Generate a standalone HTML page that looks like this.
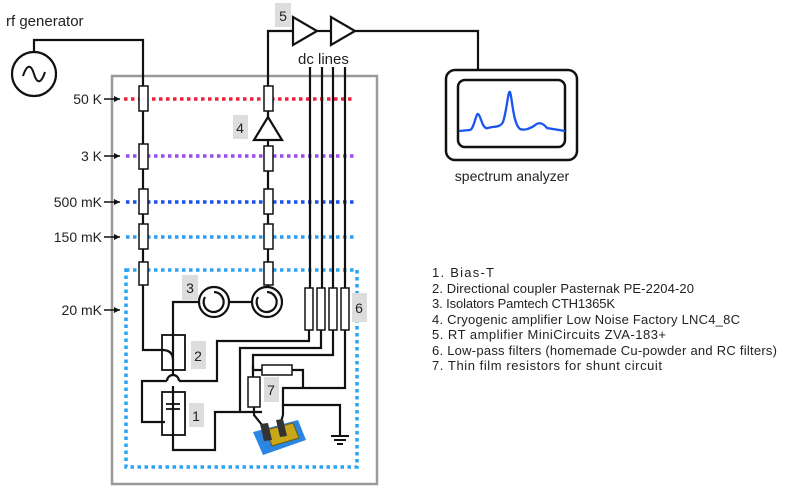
<!DOCTYPE html>
<html><head><meta charset="utf-8"><style>
html,body{margin:0;padding:0;background:#fff;}
svg{display:block;}
text{font-family:"Liberation Sans",sans-serif;fill:#222;}
</style></head><body>
<svg width="785" height="490" viewBox="0 0 785 490" xmlns="http://www.w3.org/2000/svg">
<defs>
<marker id="ar" markerWidth="8" markerHeight="8" refX="6" refY="3" orient="auto" markerUnits="userSpaceOnUse"><path d="M0,0 L6,3 L0,6 z" fill="#111"/></marker>
</defs>
<rect x="112" y="76" width="265" height="408" fill="none" stroke="#999" stroke-width="2.5"/>
<g stroke-width="3.5" stroke-dasharray="3.5 3.5" fill="none">
<line x1="124" y1="99" x2="354" y2="99" stroke="#f0203a"/>
<line x1="126" y1="156" x2="354" y2="156" stroke="#9a4cf0"/>
<line x1="126" y1="202" x2="354" y2="202" stroke="#1a50ee"/>
<line x1="126" y1="237" x2="354" y2="237" stroke="#2a9cf6"/>
<rect x="126" y="270" width="231" height="197" stroke="#2aa4f4"/>
</g>
<g font-size="14" text-anchor="end">
<text x="102" y="104">50 K</text>
<text x="102" y="161">3 K</text>
<text x="102" y="207">500 mK</text>
<text x="102" y="242">150 mK</text>
<text x="102" y="315">20 mK</text>
</g>
<g stroke="#111" stroke-width="1.5" marker-end="url(#ar)">
<line x1="104" y1="99" x2="120" y2="99"/>
<line x1="104" y1="156" x2="120" y2="156"/>
<line x1="104" y1="202" x2="120" y2="202"/>
<line x1="104" y1="237" x2="120" y2="237"/>
<line x1="104" y1="310" x2="120" y2="310"/>
</g>
<g fill="none" stroke="#111" stroke-width="2.2">
<circle cx="34" cy="74" r="22"/>
<path d="M23,76 C27,64 31,64 34,74 C37,84 41,84 45,72" stroke-width="2"/>
<polyline points="34,52 34,40 143,40 143,350 162,350"/>
<path d="M162,350 Q173,350 173,360"/>
<polyline points="268,287 268,31 293,31"/>
<line x1="317" y1="31" x2="331" y2="31"/>
<polyline points="355,31 478,31 478,70"/>
<polygon points="293,17 293,45 317,31" fill="#fff"/>
<polygon points="331,17 331,45 355,31" fill="#fff"/>
<polygon points="268,117 254,140 282,140" fill="#fff"/>
<line x1="310" y1="67" x2="310" y2="290"/>
<line x1="322" y1="67" x2="322" y2="290"/>
<line x1="333" y1="67" x2="333" y2="290"/>
<line x1="345" y1="67" x2="345" y2="290"/>
<line x1="229" y1="302" x2="252" y2="302"/>
<polyline points="199,302 173,302 173,376"/>
<path d="M173,386 L173,450 L215,450 L215,412 L262,412"/>
<path d="M167,381 A6,6 0 0 1 179,381" />
<polyline points="309,330 309,341 217,341 217,381 179,381"/>
<polyline points="167,381 142,381 142,422 165,422"/>
<polyline points="321,330 321,348 240,348 240,412"/>
<polyline points="333,330 333,355 253,355 253,377"/>
<polyline points="253,365 253,370 262,370"/>
<polyline points="292,370 303,370 303,388"/>
<polyline points="345,330 345,388 283,388 283,405 340,405 340,436"/>
<polyline points="254,407 254,415 262,425"/>
<polyline points="283,405 283,415 280,425"/>
</g>
<g stroke="#111" stroke-width="2">
<line x1="331" y1="436" x2="349" y2="436"/>
<line x1="334" y1="440" x2="346" y2="440"/>
<line x1="337" y1="444" x2="343" y2="444"/>
</g>
<g fill="#fff" stroke="#111" stroke-width="1.5">
<rect x="139" y="86" width="9" height="25"/>
<rect x="139" y="144" width="9" height="25"/>
<rect x="139" y="189" width="9" height="25"/>
<rect x="139" y="224" width="9" height="25"/>
<rect x="139" y="262" width="9" height="23"/>
<rect x="264" y="86" width="9" height="25"/>
<rect x="264" y="146" width="9" height="25"/>
<rect x="264" y="189" width="9" height="25"/>
<rect x="264" y="224" width="9" height="25"/>
<rect x="264" y="262" width="9" height="23"/>
<rect x="305" y="288" width="8" height="42"/>
<rect x="317" y="288" width="8" height="42"/>
<rect x="329" y="288" width="8" height="42"/>
<rect x="341" y="288" width="8" height="42"/>
<rect x="248" y="377" width="12" height="30"/>
<rect x="262" y="365" width="30" height="10"/>
</g>
<g fill="none" stroke="#111" stroke-width="1.8">
<rect x="162" y="335" width="23" height="35"/>
<rect x="162" y="392" width="23" height="43"/>
<line x1="166" y1="404" x2="180" y2="404"/>
<line x1="166" y1="409" x2="180" y2="409"/>
</g>
<g fill="#fff" stroke="#111" stroke-width="2.2">
<circle cx="214" cy="302" r="15"/>
<circle cx="267" cy="302" r="15"/>
</g>
<g fill="none" stroke="#111" stroke-width="2.2">
<path d="M214,292 A10,10 0 1 1 205,297"/>
<path d="M267,292 A10,10 0 1 1 258,297"/>
</g>
<polygon points="253,432 298,420 306,440 263,455" fill="#2a86e0"/>
<polygon points="266,430 293,423 299,438 272,446" fill="#c8a818" stroke="#6a5a10" stroke-width="1"/>
<polygon points="260,424 268,423 272,440 264,441" fill="#333"/>
<polygon points="276,420 283,419 287,436 280,437" fill="#333"/>
<rect x="446" y="70" width="131" height="90" rx="9" fill="#fff" stroke="#111" stroke-width="2.5"/>
<rect x="458" y="80" width="107" height="67" rx="7" fill="#fff" stroke="#111" stroke-width="2.5"/>
<path d="M459,131 L470,130 C474,129 476,113 478,114 C481,115 482,130 488,128 C494,126 500,128 503,122 C507,110 508,90 510,92 C512,96 513,124 520,129 C525,131 530,128 534,126 C538,122 542,122 547,128 L565,131" fill="none" stroke="#1a55f0" stroke-width="2.3"/>
<text x="512" y="181" font-size="14" text-anchor="middle">spectrum analyzer</text>
<text x="6" y="26" font-size="15">rf generator</text>
<text x="298" y="64" font-size="15">dc lines</text>
<g fill="#ddd">
<rect x="275" y="3" width="16" height="24"/>
<rect x="233" y="115" width="15" height="24"/>
<rect x="182" y="275" width="16" height="25"/>
<rect x="352" y="293" width="15" height="29"/>
<rect x="191" y="341" width="15" height="28"/>
<rect x="189" y="403" width="15" height="24"/>
<rect x="264" y="377" width="15" height="25"/>
</g>
<g font-size="14" text-anchor="middle">
<text x="283" y="21">5</text>
<text x="240" y="133">4</text>
<text x="190" y="293">3</text>
<text x="359" y="313">6</text>
<text x="198" y="361">2</text>
<text x="196" y="421">1</text>
<text x="271" y="395">7</text>
</g>
<g font-size="13">
<text x="432" y="277" textLength="62">1. Bias-T</text>
<text x="432" y="293" textLength="262">2. Directional coupler Pasternak PE-2204-20</text>
<text x="432" y="308" textLength="183">3. Isolators Pamtech CTH1365K</text>
<text x="432" y="324" textLength="308">4. Cryogenic amplifier Low Noise Factory LNC4_8C</text>
<text x="432" y="339" textLength="234">5. RT amplifier MiniCircuits ZVA-183+</text>
<text x="432" y="355" textLength="345">6. Low-pass filters (homemade Cu-powder and RC filters)</text>
<text x="432" y="370" textLength="230">7. Thin film resistors for shunt circuit</text>
</g>
</svg>
</body></html>
